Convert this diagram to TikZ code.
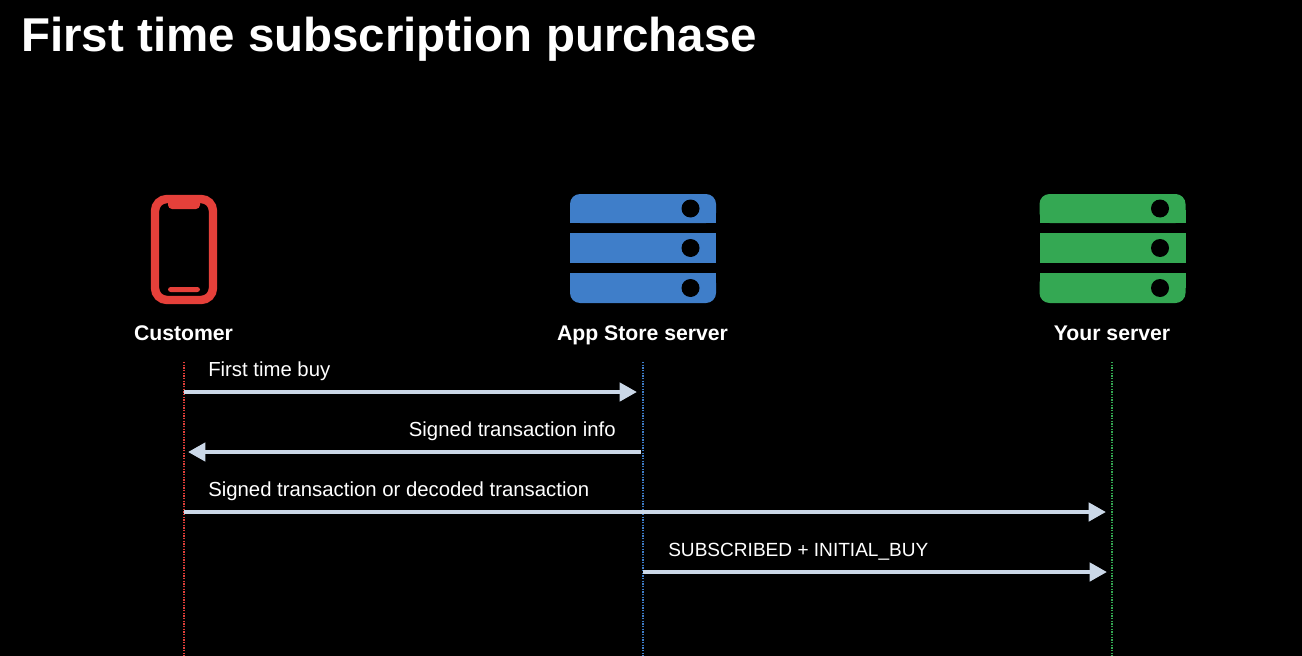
\documentclass[tikz,border=0pt]{standalone}
\usepackage{fontspec}
\setmainfont{Liberation Sans}
\usetikzlibrary{arrows.meta}
\definecolor{phonered}{HTML}{E5403A}
\definecolor{storeblue}{HTML}{3F7EC9}
\definecolor{yourgreen}{HTML}{34A853}
\definecolor{arrowgrey}{HTML}{CBD8E8}
\tikzset{
  title/.style={text=white,anchor=base west,inner sep=0pt,font=\fontsize{35.6}{35.6}\bfseries},
  actor/.style={text=white,anchor=base,inner sep=0pt,font=\fontsize{15.9}{15.9}\bfseries},
  msg/.style={text=white,anchor=base west,inner sep=0pt,font=\fontsize{15.25}{15.25}\selectfont},
  lifeline/.style={densely dotted,line width=1pt},
  call/.style={arrowgrey,line width=3.4pt,-{Triangle[length=13pt,width=13.5pt]}},
}
\newcommand{\serverbands}[2]{%
  \fill[#2,rounded corners=7.5pt] (#1,194) rectangle (#1+146,223);
  \fill[#2] (#1,210) rectangle (#1+146,223);
  \fill[#2] (#1,233) rectangle (#1+146,263);
  \fill[#2,rounded corners=7.5pt] (#1,273) rectangle (#1+146,303);
  \fill[#2] (#1,273) rectangle (#1+146,288);
  \fill[black] (#1+120.5,208.5) circle (9);
  \fill[black] (#1+120.5,248) circle (9);
  \fill[black] (#1+120.5,288) circle (9);
}
\begin{document}
\begin{tikzpicture}[x=0.75pt,y=-0.75pt]
  \fill[black] (0,0) rectangle (1302,656);
  \useasboundingbox (0,0) rectangle (1302,656);

  \node[title] (heading) at (21,51.5) {First time subscription purchase};

  % phone
  \draw[phonered,line width=6.3pt,rounded corners=9pt] (155,199) rectangle (213,300);
  \fill[phonered,rounded corners=3pt] (168,198) -- (168,209) -- (200,209) -- (200,198) -- cycle;
  \fill[phonered,rounded corners=2pt] (168,287) rectangle (200,292);

  % servers
  \serverbands{570}{storeblue}
  \serverbands{1039.5}{yourgreen}

  \node[actor] (customer) at (183.5,340) {Customer};
  \node[actor] (store) at (642.5,340) {App Store server};
  \node[actor] (yours) at (1112,340) {Your server};

  \coordinate (ctop) at (184,362);
  \coordinate (cend) at (184,656);
  \coordinate (stop) at (643,362);
  \coordinate (send) at (643,656);
  \coordinate (ytop) at (1112,362);
  \coordinate (yend) at (1112,656);
  \draw[lifeline,phonered] (ctop) -- (cend);
  \draw[lifeline,storeblue] (stop) -- (send);
  \draw[lifeline,yourgreen] (ytop) -- (yend);

  \coordinate (a1) at (184,392);
  \coordinate (b1) at (637,392);
  \coordinate (a2) at (641,452);
  \coordinate (b2) at (188,452);
  \coordinate (a3) at (184,512);
  \coordinate (b3) at (1106,512);
  \coordinate (a4) at (643,572);
  \coordinate (b4) at (1107,572);
  \draw[call] (a1) -- (b1);
  \draw[call] (a2) -- (b2);
  \draw[call] (a3) -- (b3);
  \draw[call] (a4) -- (b4);

  \node[msg] (buy) at (208,376) {First time buy};
  \node[msg,anchor=base east] (info) at (616,436) {Signed transaction info};
  \node[msg] (decoded) at (208,496) {Signed transaction or decoded transaction};
  \node[msg,font=\fontsize{14.3}{14.3}\selectfont] (initial) at (668,556) {SUBSCRIBED + INITIAL\_BUY};
\end{tikzpicture}
\end{document}
